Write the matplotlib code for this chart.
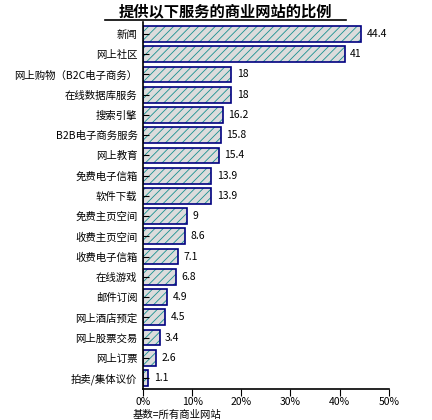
import matplotlib
matplotlib.use("Agg")
import matplotlib.pyplot as plt
from matplotlib.lines import Line2D

plt.rcParams['font.family'] = ['Noto Sans CJK SC', 'DejaVu Sans']
plt.rcParams['hatch.linewidth'] = 0.6

categories = ["新闻", "网上社区", "网上购物（B2C电子商务）", "在线数据库服务", "搜索引擎",
              "B2B电子商务服务", "网上教育", "免费电子信箱", "软件下载", "免费主页空间",
              "收费主页空间", "收费电子信箱", "在线游戏", "邮件订阅", "网上酒店预定",
              "网上股票交易", "网上订票", "拍卖/集体议价"]
values = [44.4, 41, 18, 18, 16.2, 15.8, 15.4, 13.9, 13.9, 9, 8.6, 7.1, 6.8, 4.9, 4.5, 3.4, 2.6, 1.1]
xticks = [0, 10, 20, 30, 40, 50]

fig = plt.figure(figsize=(4.32, 4.20), dpi=100)
ax = fig.add_axes([0.331, 0.074, 0.569, 0.874])

y = list(range(len(categories)))
# hatch layer, then navy outline on top
ax.barh(y, values, height=0.78, color="#dcdcdc", edgecolor="#1a9090", linewidth=0, hatch="////")
ax.barh(y, values, height=0.78, fill=False, edgecolor="#000080", linewidth=1.2)

for yi, v in zip(y, values):
    ax.text(v + 1.1, yi, f"{v:g}", va="center", ha="left", fontsize=7.5)

ax.set_xlim(0, 50)
ax.set_ylim(len(categories) - 0.46, -0.6)
ax.set_xticks(xticks)
ax.set_xticklabels([f"{t}%" for t in xticks], fontsize=7.5)
ax.set_yticks(y)
ax.set_yticklabels(categories, fontsize=7.5)
ax.tick_params(axis="y", direction="in", length=4, pad=4)
ax.tick_params(axis="x", direction="out", length=5, pad=1)
for s in ["top", "right"]:
    ax.spines[s].set_visible(False)
ax.spines["left"].set_linewidth(1.2)
ax.spines["bottom"].set_linewidth(1.2)

fig.text(0.521, 0.974, "提供以下服务的商业网站的比例", ha="center", va="center",
         fontsize=11, fontweight="bold")
fig.add_artist(Line2D([0.243, 0.80], [0.952, 0.952], color="black", linewidth=1.2,
                      transform=fig.transFigure))
fig.text(0.308, 0.013, "基数=所有商业网站", ha="left", va="center", fontsize=7.5)

fig.savefig("out.png", dpi=100)
